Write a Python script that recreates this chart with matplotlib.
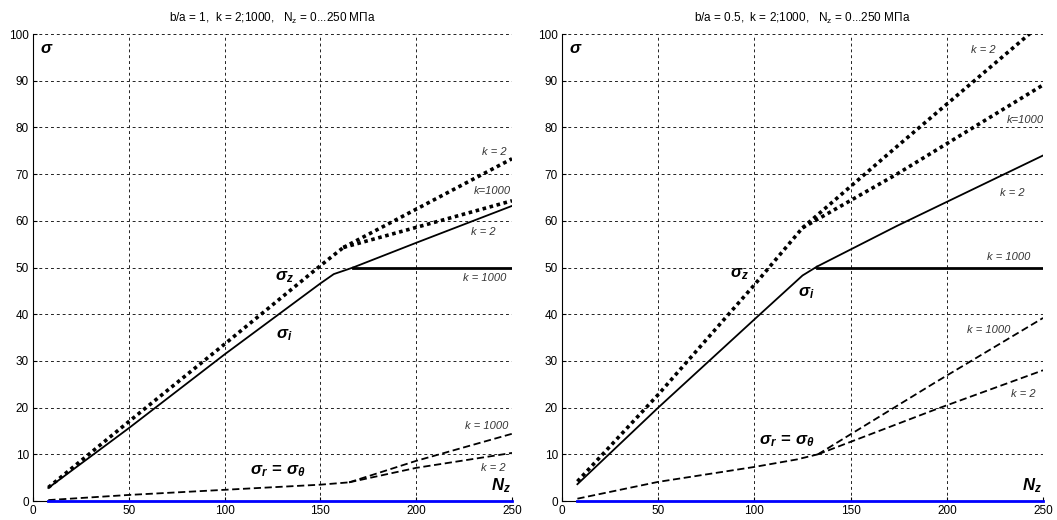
import matplotlib
matplotlib.use("Agg")
import matplotlib.pyplot as plt

plt.rcParams['font.family'] = ['Liberation Sans', 'DejaVu Sans']
plt.rcParams['mathtext.fontset'] = 'custom'
plt.rcParams['mathtext.it'] = 'Liberation Sans:italic:bold'
plt.rcParams['mathtext.rm'] = 'Liberation Sans:bold'
plt.rcParams['mathtext.bf'] = 'Liberation Sans:bold'

# ---------------- data: left panel (b/a = 1) ----------------
titles = [r"b/a = 1,  k = 2;1000,   $\mathregular{N_z}$ = 0...250 МПа",
          r"b/a = 0.5,  k = 2;1000,   $\mathregular{N_z}$ = 0...250 МПа"]
xticks = [0, 50, 100, 150, 200, 250]
yticks = [0, 10, 20, 30, 40, 50, 60, 70, 80, 90, 100]

L_sz_N = [8, 50, 100, 150, 162]
L_sz = [2.9, 17.0, 33.6, 50.4, 54.3]
L_sz_k2_N = [162, 200, 250]
L_sz_k2 = [54.3, 62.5, 73.3]
L_sz_k1000_N = [162, 200, 250]
L_sz_k1000 = [54.3, 58.6, 64.3]

L_si_N = [8, 50, 100, 150, 157, 167]
L_si = [2.8, 15.6, 31.4, 46.6, 48.6, 50.0]
L_si_k2_N = [167, 200, 250]
L_si_k2 = [50.0, 55.3, 63.2]
L_si_k1000_N = [167, 250]
L_si_k1000 = [50.0, 50.0]

L_sr_N = [8, 50, 100, 150, 165]
L_sr = [0.2, 1.3, 2.4, 3.5, 4.0]
L_sr_k1000_N = [165, 200, 250]
L_sr_k1000 = [4.0, 8.6, 14.4]
L_sr_k2_N = [165, 200, 250]
L_sr_k2 = [4.0, 7.1, 10.3]

# ---------------- data: right panel (b/a = 0.5) ----------------
R_sz_N = [8, 50, 100, 125]
R_sz = [4.2, 22.8, 46.3, 58.5]
R_sz_k2_N = [125, 174, 250]
R_sz_k2 = [58.5, 75.9, 102.5]
R_sz_k1000_N = [125, 174, 250]
R_sz_k1000 = [58.5, 70.0, 89.1]

R_si_N = [8, 50, 100, 125, 132.5]
R_si = [3.6, 20.0, 38.9, 48.3, 50.2]
R_si_k2_N = [132.5, 174, 250]
R_si_k2 = [50.2, 58.9, 74.0]
R_si_k1000_N = [132.5, 250]
R_si_k1000 = [50.0, 50.0]

R_sr_N = [8, 50, 100, 122, 133]
R_sr = [0.5, 4.1, 7.3, 8.9, 10.0]
R_sr_k1000_N = [133, 194, 250]
R_sr_k1000 = [10.0, 25.4, 39.2]
R_sr_k2_N = [133, 194, 250]
R_sr_k2 = [10.0, 19.6, 28.0]

Nz_axis = [8, 250]
Nz_zero = [0, 0]

fig = plt.figure(figsize=(10.57, 5.2), dpi=100)
axL = fig.add_axes([0.0312, 0.0365, 0.4532, 0.898])
axR = fig.add_axes([0.5317, 0.0365, 0.4551, 0.898])

DOT = dict(color='black', lw=2.6, linestyle=(0, (1, 1)), dash_capstyle='butt')
SOL = dict(color='black', lw=1.3)
SOLF = dict(color='black', lw=2.0)
DASH = dict(color='black', lw=1.3, linestyle=(0, (4, 2)))
KTXT = dict(fontsize=8, style='italic', color='#333333', ha='center', va='center')
SIG = dict(fontsize=12, ha='center', va='center')


def setup(ax, title):
    ax.set_xlim(0, 250)
    ax.set_ylim(0, 100)
    ax.set_xticks(xticks)
    ax.set_yticks(yticks)
    ax.tick_params(direction='in', length=3, labelsize=8.5, pad=3)
    ax.grid(True, color='#222222', lw=0.7, linestyle=(0, (3, 3)))
    ax.spines['top'].set_visible(False)
    ax.spines['right'].set_visible(False)
    ax.set_title(title, fontsize=8.5, pad=9)
    ax.set_axisbelow(True)


setup(axL, titles[0])
setup(axR, titles[1])

# left panel
ax = axL
ax.plot(L_sz_N, L_sz, **DOT)
ax.plot(L_sz_k2_N, L_sz_k2, **DOT)
ax.plot(L_sz_k1000_N, L_sz_k1000, **DOT)
ax.plot(L_si_N, L_si, **SOL)
ax.plot(L_si_k2_N, L_si_k2, **SOL)
ax.plot(L_si_k1000_N, L_si_k1000, **SOLF)
ax.plot(L_sr_N, L_sr, **DASH)
ax.plot(L_sr_k1000_N, L_sr_k1000, **DASH)
ax.plot(L_sr_k2_N, L_sr_k2, **DASH)
ax.plot(Nz_axis, Nz_zero, color='#0000ff', lw=2, clip_on=False, zorder=5)
ax.text(241, 74.8, 'k = 2', **KTXT)
ax.text(240, 66.3, 'k=1000', **KTXT)
ax.text(235, 57.6, 'k = 2', **KTXT)
ax.text(236, 47.8, 'k = 1000', **KTXT)
ax.text(237, 16.0, 'k = 1000', **KTXT)
ax.text(240, 7.0, 'k = 2', **KTXT)
ax.text(131, 48.0, r'$\sigma_z$', **SIG)
ax.text(131, 35.5, r'$\sigma_i$', **SIG)
ax.text(128, 6.3, r'$\sigma_r\,=\,\sigma_\theta$', **SIG)
ax.text(7, 97, r'$\sigma$', fontsize=12, ha='center', va='center')
ax.text(244, 3.2, r'$N_z$', fontsize=12, ha='center', va='center')

# right panel
ax = axR
ax.plot(R_sz_N, R_sz, **DOT)
ax.plot(R_sz_k2_N, R_sz_k2, **DOT)
ax.plot(R_sz_k1000_N, R_sz_k1000, **DOT)
ax.plot(R_si_N, R_si, **SOL)
ax.plot(R_si_k2_N, R_si_k2, **SOL)
ax.plot(R_si_k1000_N, R_si_k1000, **SOLF)
ax.plot(R_sr_N, R_sr, **DASH)
ax.plot(R_sr_k1000_N, R_sr_k1000, **DASH)
ax.plot(R_sr_k2_N, R_sr_k2, **DASH)
ax.plot(Nz_axis, Nz_zero, color='#0000ff', lw=2, clip_on=False, zorder=5)
ax.text(219, 96.5, 'k = 2', **KTXT)
ax.text(241, 81.5, 'k=1000', **KTXT)
ax.text(234, 66.0, 'k = 2', **KTXT)
ax.text(232, 52.2, 'k = 1000', **KTXT)
ax.text(222, 36.6, 'k = 1000', **KTXT)
ax.text(240, 23.0, 'k = 2', **KTXT)
ax.text(92, 48.5, r'$\sigma_z$', **SIG)
ax.text(127, 44.5, r'$\sigma_i$', **SIG)
ax.text(117, 12.8, r'$\sigma_r\,=\,\sigma_\theta$', **SIG)
ax.text(7, 97, r'$\sigma$', fontsize=12, ha='center', va='center')
ax.text(244, 3.2, r'$N_z$', fontsize=12, ha='center', va='center')

fig.savefig('out.png', dpi=100)
